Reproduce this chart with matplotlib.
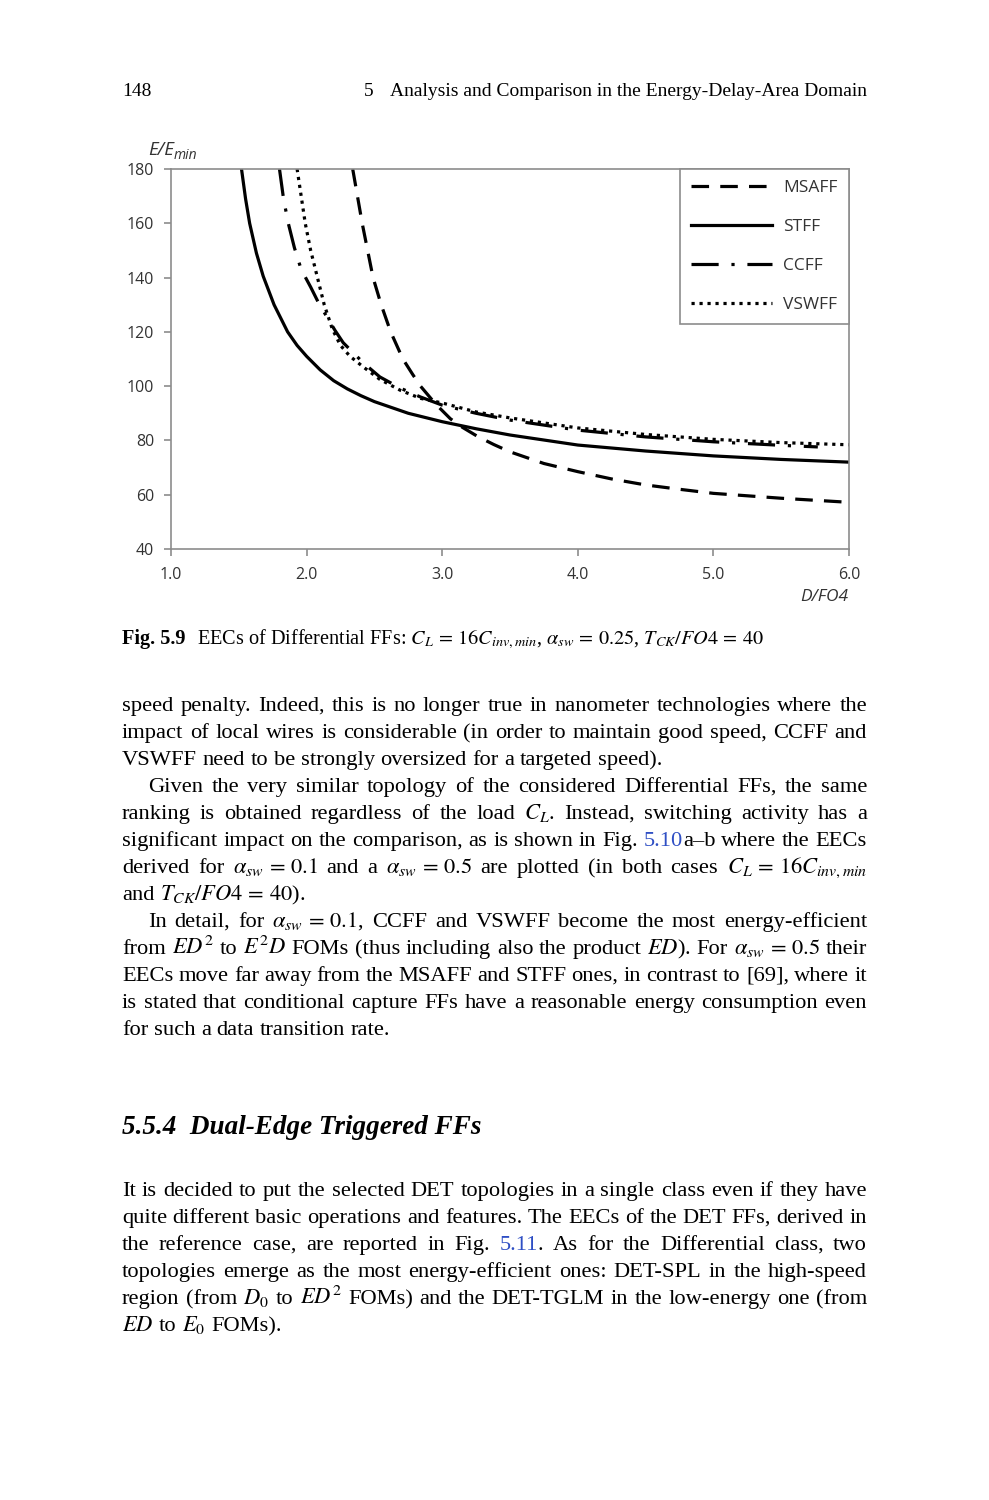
import matplotlib
matplotlib.use('Agg')
import matplotlib.pyplot as plt
from matplotlib.font_manager import FontProperties

W, H = 989, 1500

# curves (D/FO4 -> E/Emin)
msaff_x = [2.34, 2.375, 2.41, 2.45, 2.49, 2.55, 2.62, 2.71, 2.78, 2.84, 2.95, 3.06, 3.15,
           3.26, 3.38, 3.5, 3.75, 4.0, 4.25, 4.5, 4.75, 5.0, 5.5, 6.0]
msaff_y = [180, 170, 160, 150, 140, 130, 120, 110, 104.5, 100, 93.5, 88, 84.8,
           81.5, 78.5, 75.8, 71.5, 68.5, 65.8, 63.6, 62, 60.5, 58.7, 57.2]

stff_x = [1.52, 1.55, 1.58, 1.63, 1.68, 1.76, 1.86, 1.93, 2.0, 2.1, 2.2, 2.3, 2.4, 2.5,
          2.75, 3.0, 3.25, 3.5, 4.0, 4.5, 5.0, 5.5, 6.0]
stff_y = [180, 169, 160, 149, 140.5, 130, 120, 115, 111, 106, 102, 99, 96.5, 94.3,
          90, 86.9, 84.3, 82, 78.3, 76.1, 74.3, 73, 72]

ccff_x = [1.80, 1.83, 1.865, 1.91, 1.96, 2.03, 2.09, 2.15, 2.21, 2.27, 2.35, 2.42, 2.54,
          2.69, 2.84, 3.0, 3.25, 3.5, 4.0, 4.5, 5.0, 5.5, 5.77]
ccff_y = [180, 169, 160, 151, 143, 136.5, 130.5, 125.5, 120.5, 116, 112, 108.5, 103.4,
          99.3, 96, 93, 90, 87.5, 83.8, 81.3, 79.5, 78.2, 77.6]

vswff_x = [1.93, 1.96, 1.99, 2.03, 2.08, 2.13, 2.19, 2.25, 2.32, 2.42, 2.54, 2.69, 2.84,
           3.0, 3.25, 3.5, 4.0, 4.5, 5.0, 5.5, 6.0]
vswff_y = [180, 170, 160, 150, 140, 130, 121, 115, 111, 107, 102.5, 98.5, 95.5,
           93.8, 90.5, 88.3, 84.6, 82.2, 80.4, 79.2, 78.4]

x_ticks = [1.0, 2.0, 3.0, 4.0, 5.0, 6.0]
y_ticks = [40, 60, 80, 100, 120, 140, 160, 180]

fig = plt.figure(figsize=(W / 100, H / 100), dpi=100)
renderer = fig.canvas.get_renderer()


def fx(x):
    return x / W


def fy(y):
    return 1 - y / H


GREY = '#8c8c8c'
TXT = '#333333'
SANS = 'Open Sans'

ax = fig.add_axes([fx(171), fy(549), (849 - 171) / W, (549 - 169) / H])
ax.plot(msaff_x, msaff_y, color='black', lw=2.3, ls=(0, (5.5, 3.5)), label='MSAFF')
ax.plot(stff_x, stff_y, color='black', lw=2.3, label='STFF')
ax.plot(ccff_x, ccff_y, color='black', lw=2.3, ls=(0, (8.5, 4, 1, 4)), label='CCFF')
ax.plot(vswff_x, vswff_y, color='black', lw=2.3, ls=(0, (1, 1.5)), label='VSWFF')

ax.set_xlim(1, 6)
ax.set_ylim(40, 180)
ax.set_xticks(x_ticks)
ax.set_xticklabels(['%.1f' % v for v in x_ticks])
ax.set_yticks(y_ticks)
for s in ax.spines.values():
    s.set_color(GREY)
    s.set_linewidth(1.2)
ax.tick_params(direction='out', length=5, width=1.2, color=GREY,
               labelcolor=TXT, labelsize=11.5)
ax.tick_params(axis='y', pad=7)
ax.tick_params(axis='x', pad=8)
for lab in ax.get_xticklabels() + ax.get_yticklabels():
    lab.set_family(SANS)

leg = ax.legend(loc='upper right', fancybox=False, edgecolor=GREY, framealpha=1,
                borderaxespad=0, handlelength=4.65, handletextpad=0.65,
                labelspacing=1.3, borderpad=0.65, labelcolor=TXT,
                prop=FontProperties(family=SANS, size=12.5))
leg.get_frame().set_linewidth(1.2)

# axis titles
t = fig.text(fx(148), fy(155), 'E/E', family=SANS, style='italic', size=13.5, color=TXT)
wE = t.get_window_extent(renderer).width
fig.text(fx(148 + wE), fy(159), 'min', family=SANS, style='italic', size=10, color=TXT)
fig.text(fx(848), fy(601), 'D/FO4', family=SANS, style='italic', size=12.5,
         color=TXT, ha='right')

# page text
SERIF = 'Liberation Serif'
BODY = 16.2
BLUE = '#2f4fc4'

fig.text(fx(122), fy(96), '148', family=SERIF, size=14)
fig.text(fx(364), fy(96), '5', family=SERIF, size=14)
fig.text(fx(867), fy(96), 'Analysis and Comparison in the Energy-Delay-Area Domain',
         family=SERIF, size=14, ha='right')

fig.text(fx(122), fy(644), 'Fig. 5.9', family=SERIF, size=14.6, weight='bold')
fig.text(fx(197), fy(644),
         r'EECs of Differential FFs: $C_L\,=\,16C_{inv,min}$, $\alpha_{sw}\,=\,0.25$, '
         r'$T_{CK}/FO4\,=\,40$',
         family=SERIF, size=14.6, math_fontfamily='stix')


def segments(word):
    out = []
    while '«' in word:
        a, rest = word.split('«', 1)
        b, word = rest.split('»', 1)
        if a:
            out.append((a, 'black'))
        out.append((b, BLUE))
    if word:
        out.append((word, 'black'))
    return out


def wid(t):
    return t.get_window_extent(renderer).width


probe1 = fig.text(0, 0, 'x x', family=SERIF, size=BODY)
probe2 = fig.text(0, 0, 'xx', family=SERIF, size=BODY)
SPACE = wid(probe1) - wid(probe2)
probe1.remove()
probe2.remove()


def body_line(y, line, indent=0, last=False, x0=122, x1=867):
    items = []
    for w in line.split(' '):
        parts = []
        for s, c in segments(w):
            t = fig.text(0, fy(y), s, family=SERIF, size=BODY, color=c,
                         math_fontfamily='stix')
            parts.append((t, wid(t)))
        items.append(parts)
    total = sum(p[1] for parts in items for p in parts)
    if last or len(items) < 2:
        gap = SPACE
    else:
        gap = (x1 - x0 - indent - total) / (len(items) - 1)
    x = x0 + indent
    for parts in items:
        for t, w in parts:
            t.set_x(fx(x))
            x += w
        x += gap


paragraphs = [
    (711, 0, [
        'speed penalty. Indeed, this is no longer true in nanometer technologies where the',
        'impact of local wires is considerable (in order to maintain good speed, CCFF and',
        'VSWFF need to be strongly oversized for a targeted speed).']),
    (792, 26, [
        'Given the very similar topology of the considered Differential FFs, the same',
        r'ranking is obtained regardless of the load $C_L$. Instead, switching activity has a',
        'significant impact on the comparison, as is shown in Fig. «5.10»a–b where the EECs',
        r'derived for $\alpha_{sw}\,=\,0.1$ and a $\alpha_{sw}\,=\,0.5$ are plotted (in both cases $C_L\,=\,16C_{inv,min}$',
        r'and $T_{CK}/FO4\,=\,40$).']),
    (927, 26, [
        r'In detail, for $\alpha_{sw}\,=\,0.1$, CCFF and VSWFF become the most energy-efficient',
        r'from $ED^2$ to $E^2D$ FOMs (thus including also the product $ED$). For $\alpha_{sw}\,=\,0.5$ their',
        'EECs move far away from the MSAFF and STFF ones, in contrast to [69], where it',
        'is stated that conditional capture FFs have a reasonable energy consumption even',
        'for such a data transition rate.']),
    (1196, 0, [
        'It is decided to put the selected DET topologies in a single class even if they have',
        'quite different basic operations and features. The EECs of the DET FFs, derived in',
        'the reference case, are reported in Fig. «5.11». As for the Differential class, two',
        'topologies emerge as the most energy-efficient ones: DET-SPL in the high-speed',
        r'region (from $D_0$ to $ED^2$ FOMs) and the DET-TGLM in the low-energy one (from',
        r'$ED$ to $E_0$ FOMs).']),
]

for y0, ind, lines in paragraphs:
    for i, line in enumerate(lines):
        body_line(y0 + 27 * i, line, indent=ind if i == 0 else 0,
                  last=(i == len(lines) - 1))

fig.text(fx(122), fy(1134), '5.5.4  Dual-Edge Triggered FFs', family=SERIF,
         size=19.5, weight='bold', style='italic')

fig.savefig('out.png', dpi=100)
